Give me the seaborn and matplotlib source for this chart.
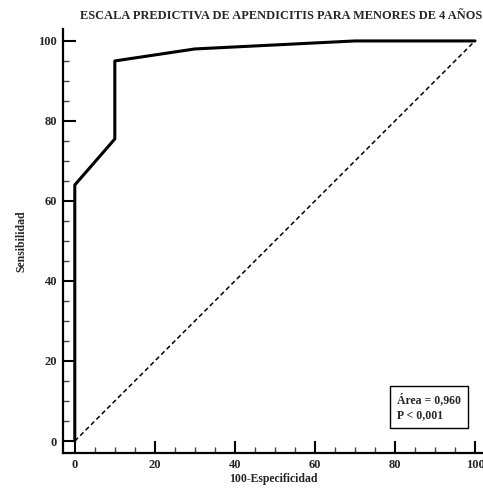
import numpy as np
import pandas as pd
import seaborn as sns
import matplotlib.pyplot as plt
from matplotlib.ticker import MultipleLocator

# ROC curve points
fpr = [0, 0, 10, 10, 30, 70, 100]
tpr = [0, 64, 75.5, 95, 98, 100, 100]
diag = [0, 100]
area_txt = 'Área = 0,960\nP < 0,001'

sns.set_theme(style='ticks')
plt.rcParams['font.family'] = ['Liberation Serif', 'DejaVu Serif']
plt.rcParams['font.weight'] = 'bold'

fig = plt.figure(figsize=(4.83, 4.88), dpi=100)
ax = fig.add_axes([0.130, 0.0717, 0.870, 0.869])

df = pd.DataFrame({'x': fpr, 'y': tpr})
sns.lineplot(data=df, x='x', y='y', sort=False, estimator=None, errorbar=None,
             color='black', lw=2.2, ax=ax)
ax.plot(diag, diag, color='black', lw=1.1, ls=(0, (3, 2)))

ax.set_xlim(-3, 102)
ax.set_ylim(-3, 103)
ax.xaxis.set_major_locator(MultipleLocator(20))
ax.yaxis.set_major_locator(MultipleLocator(20))
ax.xaxis.set_minor_locator(MultipleLocator(5))
ax.yaxis.set_minor_locator(MultipleLocator(5))
ax.tick_params(which='major', direction='in', length=9, width=1.5, labelsize=9, pad=4, color='black')
ax.tick_params(which='minor', direction='in', length=4, width=1.0, color='#444444')
for lab in ax.get_xticklabels() + ax.get_yticklabels():
    lab.set_fontweight('bold')

sns.despine(ax=ax)
for s in ['left', 'bottom']:
    ax.spines[s].set_linewidth(1.6)
    ax.spines[s].set_color('black')

ax.set_xlabel('100-Especificidad', fontsize=8.5, fontweight='bold', labelpad=2)
ax.set_ylabel('Sensibilidad', fontsize=8.5, fontweight='bold', labelpad=8)
fig.text(0.582, 0.968, 'ESCALA PREDICTIVA DE APENDICITIS PARA MENORES DE 4 AÑOS',
         fontsize=8.9, fontweight='bold', ha='center', va='center')

ax.text(80.5, 8.5, area_txt, fontsize=8.5, fontweight='bold', va='center', ha='left',
        linespacing=1.3,
        bbox=dict(boxstyle='square,pad=0.6', fc='white', ec='black', lw=1.0))

fig.savefig('out.png', dpi=100)
